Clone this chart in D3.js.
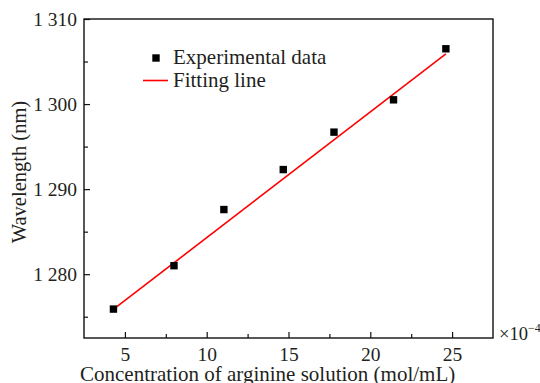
<!DOCTYPE html>
<html>
<head>
<meta charset="utf-8">
<script src="https://cdn.jsdelivr.net/npm/d3@7"></script>
<style>
  body { margin: 0; background: #fff; }
</style>
</head>
<body>
<svg id="chart" width="540" height="383"></svg>
<script>
// concentration (x 10^-4 mol/mL) and measured wavelength (nm)
const concentration = [4.3, 8.0, 11.05, 14.68, 17.78, 21.42, 24.62];
const wavelength = [1275.9, 1281.0, 1287.6, 1292.3, 1296.7, 1300.5, 1306.5];
// fitted line end points
const fitX = [4.25, 24.62];
const fitY = [1275.8, 1305.9];

const xMajor = [5, 10, 15, 20, 25];
const xMinor = [7.5, 12.5, 17.5, 22.5];
const yMajor = [1280, 1290, 1300, 1310];
const yMinor = [1275, 1285, 1295, 1305];

const serif = "'Liberation Serif', 'Times New Roman', serif";
const ink = "#231f20";

const margin = { left: 84, top: 19, right: 47, bottom: 45 };
const width = 540 - margin.left - margin.right;
const height = 383 - margin.top - margin.bottom;

const svg = d3.select("#chart");
const g = svg.append("g")
    .attr("transform", "translate(" + margin.left + "," + margin.top + ")");

const x = d3.scaleLinear().domain([2.5, 27.5]).range([0, width]);
const y = d3.scaleLinear().domain([1272.5, 1310]).range([height, 0]);

const fmt = d => d3.format(",")(d).replace(",", " ");

// frame
g.append("rect")
    .attr("width", width).attr("height", height)
    .attr("fill", "none").attr("stroke", "#111").attr("stroke-width", 1.4);

// bottom axis, ticks inward
g.append("g")
    .attr("transform", "translate(0," + height + ")")
    .call(d3.axisBottom(x).tickValues(xMajor).tickSize(-6).tickPadding(9).tickFormat(d3.format("d")));
g.append("g")
    .attr("transform", "translate(0," + height + ")")
    .call(d3.axisBottom(x).tickValues(xMinor).tickSize(-4).tickFormat(""));

// left axis, ticks inward
g.append("g")
    .call(d3.axisLeft(y).tickValues(yMajor).tickSize(-6).tickPadding(7).tickFormat(fmt));
g.append("g")
    .call(d3.axisLeft(y).tickValues(yMinor).tickSize(-4).tickFormat(""));

g.selectAll(".domain").remove();
g.selectAll(".tick line").attr("stroke", "#111").attr("stroke-width", 1.2);
g.selectAll(".tick text")
    .style("font-family", serif).style("font-size", "19.5px").style("fill", ink);

// fitted line
g.append("line")
    .attr("x1", x(fitX[0])).attr("y1", y(fitY[0]))
    .attr("x2", x(fitX[1])).attr("y2", y(fitY[1]))
    .attr("stroke", "#ff0000").attr("stroke-width", 1.6);

// experimental points
g.selectAll("rect.pt")
    .data(concentration)
    .join("rect")
    .attr("class", "pt")
    .attr("x", d => x(d) - 3.7)
    .attr("y", (d, i) => y(wavelength[i]) - 3.7)
    .attr("width", 7.4).attr("height", 7.4)
    .attr("fill", "#000");

// legend
const leg = g.append("g").attr("transform", "translate(59,39)");
leg.append("rect").attr("x", 9.3).attr("y", -3.7).attr("width", 7.4).attr("height", 7.4).attr("fill", "#000");
leg.append("text").attr("x", 30).attr("y", 6).text("Experimental data");
leg.append("line").attr("x1", 0).attr("x2", 25).attr("y1", 22.5).attr("y2", 22.5)
    .attr("stroke", "#ff0000").attr("stroke-width", 1.6);
leg.append("text").attr("x", 30).attr("y", 29).text("Fitting line");
leg.selectAll("text").style("font-family", serif).style("font-size", "21px").style("fill", ink);

// axis titles
svg.append("text")
    .attr("x", 80).attr("y", 381)
    .style("font-family", serif).style("font-size", "21px").style("fill", ink)
    .text("Concentration of arginine solution (mol/mL)");

svg.append("text")
    .attr("transform", "translate(26,172) rotate(-90)")
    .attr("text-anchor", "middle")
    .style("font-family", serif).style("font-size", "20.5px").style("fill", ink)
    .text("Wavelength (nm)");

const mult = svg.append("text").attr("x", 499).attr("y", 340)
    .style("font-family", serif).style("font-size", "18.5px").style("fill", ink);
mult.append("tspan").text("\u00d710");
mult.append("tspan").attr("dy", -8).style("font-size", "12px").text("\u22124");
</script>
</body>
</html>
